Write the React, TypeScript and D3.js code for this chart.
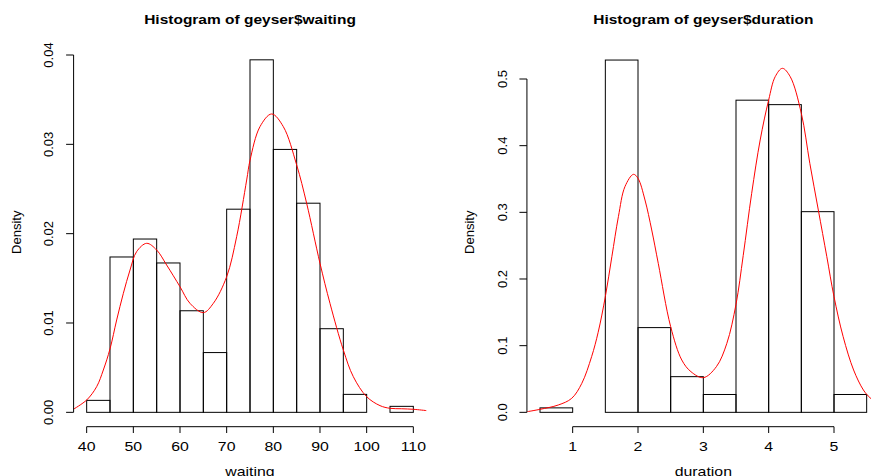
import React from "react";
import * as d3 from "d3";

// ---------- data ----------
const waitingBreaks = [40, 45, 50, 55, 60, 65, 70, 75, 80, 85, 90, 95, 100, 105, 110];
const waitingDensity = [0.00134, 0.01739, 0.0194, 0.01672, 0.01137, 0.00669, 0.02274, 0.03946, 0.02943, 0.02341, 0.00936, 0.00201, 0, 0.00067];
const waitingCurveX = [37.14, 40, 42.14, 43.57, 45, 46.43, 47.86, 49.29, 50.71, 52.86, 55, 57.14, 60, 62.14, 65, 67.14, 70, 72.14, 74.29, 75, 77.14, 79.64, 82.14, 85, 87.14, 90, 92.14, 95, 97.14, 100, 102.86, 105, 107.5, 110, 112.86];
const waitingCurveY = [0.00034, 0.00138, 0.00287, 0.00474, 0.0071, 0.01034, 0.01332, 0.01593, 0.01799, 0.01892, 0.01817, 0.01649, 0.01406, 0.0122, 0.01116, 0.0122, 0.01518, 0.01966, 0.02601, 0.0282, 0.03198, 0.0334, 0.03198, 0.02769, 0.0234, 0.01668, 0.0122, 0.00698, 0.00399, 0.00175, 0.00075, 0.00045, 0.0004, 0.00034, 0.00019];
const waitingXTicks = [40, 50, 60, 70, 80, 90, 100, 110];
const waitingYTicks = ["0.00", "0.01", "0.02", "0.03", "0.04"];

const durationBreaks = [0.5, 1, 1.5, 2, 2.5, 3, 3.5, 4, 4.5, 5, 5.5];
const durationDensity = [0.00669, 0, 0.52843, 0.12709, 0.05351, 0.02676, 0.46823, 0.46154, 0.301, 0.02676];
const durationCurveX = [0.305, 0.5, 0.78, 0.985, 1.14, 1.29, 1.39, 1.5, 1.6, 1.7, 1.8, 1.93, 2.0, 2.107, 2.21, 2.31, 2.5, 2.67, 2.81, 3.0, 3.2, 3.36, 3.5, 3.61, 3.74, 3.87, 4.0, 4.1, 4.21, 4.33, 4.5, 4.63, 4.76, 4.89, 5.0, 5.14, 5.3, 5.45, 5.55, 5.7];
const durationCurveY = [0.001, 0.0045, 0.011, 0.021, 0.0435, 0.0835, 0.12, 0.1735, 0.2335, 0.2935, 0.3385, 0.357, 0.351, 0.3185, 0.2735, 0.2235, 0.1285, 0.0785, 0.061, 0.052, 0.0685, 0.1035, 0.162, 0.235, 0.3285, 0.4085, 0.4685, 0.5035, 0.516, 0.5035, 0.4485, 0.3735, 0.3035, 0.2335, 0.1735, 0.1135, 0.0635, 0.0335, 0.022, 0.011];
const durationXTicks = [1, 2, 3, 4, 5];
const durationYTicks = ["0.0", "0.1", "0.2", "0.3", "0.4", "0.5"];

// ---------- layout ----------
const W = 871;
const H = 476;
const FONT = '"Liberation Sans", Arial, Helvetica, sans-serif';
const SX = 1.22; // horizontal stretch of the reference's text
const AXIS_Y = 426.7;
const ZERO_Y = 412.33;
const PLOT_TOP = 37.9;

type PanelProps = {
  id: string;
  title: string;
  xlabel: string;
  breaks: number[];
  density: number[];
  curveX: number[];
  curveY: number[];
  xTicks: number[];
  yTicks: string[];
  x: d3.ScaleLinear<number, number>;
  y: d3.ScaleLinear<number, number>;
  plotLeft: number;
  plotRight: number;
};

function Panel(p: PanelProps) {
  const { x, y } = p;
  const cx = (p.plotLeft + p.plotRight) / 2;
  const line = d3
    .line<number>()
    .x((_, i) => x(p.curveX[i]))
    .y((d) => y(d))
    .curve(d3.curveCatmullRom.alpha(0.5));
  const yTickVals = p.yTicks.map(Number);
  const xAxisStart = x(p.xTicks[0]);
  const xAxisEnd = x(p.xTicks[p.xTicks.length - 1]);
  const yAxisTop = y(yTickVals[yTickVals.length - 1]);
  const yAxisBot = y(yTickVals[0]);
  const plotCenterY = (PLOT_TOP + AXIS_Y) / 2;
  return (
    <g>
      <defs>
        <clipPath id={p.id}>
          <rect x={p.plotLeft} y={PLOT_TOP} width={p.plotRight - p.plotLeft} height={AXIS_Y - PLOT_TOP} />
        </clipPath>
      </defs>
      {/* bars */}
      {p.density.map((d, i) => (
        <rect
          key={i}
          x={x(p.breaks[i])}
          y={y(d)}
          width={x(p.breaks[i + 1]) - x(p.breaks[i])}
          height={y(0) - y(d)}
          fill="none"
          stroke="#000"
          strokeWidth={1}
        />
      ))}
      {/* density curve */}
      <path d={line(p.curveY) || ""} fill="none" stroke="#ff0000" strokeWidth={1} clipPath={`url(#${p.id})`} />
      {/* x axis */}
      <line x1={xAxisStart} x2={xAxisEnd} y1={AXIS_Y} y2={AXIS_Y} stroke="#000" />
      {p.xTicks.map((t) => (
        <g key={t}>
          <line x1={x(t)} x2={x(t)} y1={AXIS_Y} y2={AXIS_Y + 6.3} stroke="#000" />
          <text
            transform={`translate(${x(t)},451) scale(${SX},1)`}
            textAnchor="middle"
            fontSize={13}
            fontFamily={FONT}
            fill="#000"
          >
            {t}
          </text>
        </g>
      ))}
      {/* y axis */}
      <line x1={p.plotLeft} x2={p.plotLeft} y1={yAxisBot} y2={yAxisTop} stroke="#000" />
      {p.yTicks.map((t) => (
        <g key={t}>
          <line x1={p.plotLeft - 7.5} x2={p.plotLeft} y1={y(+t)} y2={y(+t)} stroke="#000" />
          <text
            transform={`translate(${p.plotLeft - 20.3},${y(+t)}) rotate(-90)`}
            textAnchor="middle"
            fontSize={13}
            fontFamily={FONT}
            fill="#000"
          >
            {t}
          </text>
        </g>
      ))}
      {/* labels */}
      <text
        transform={`translate(${cx},23.5) scale(${SX},1)`}
        textAnchor="middle"
        fontSize={12.7}
        fontWeight="bold"
        fontFamily={FONT}
        fill="#000"
      >
        {p.title}
      </text>
      <text
        transform={`translate(${cx},475.5) scale(${SX},1)`}
        textAnchor="middle"
        fontSize={13}
        fontFamily={FONT}
        fill="#000"
      >
        {p.xlabel}
      </text>
      <text
        transform={`translate(${p.plotLeft - 52.5},${plotCenterY}) rotate(-90)`}
        textAnchor="middle"
        fontSize={13}
        fontFamily={FONT}
        fill="#000"
      >
        Density
      </text>
    </g>
  );
}

export default function App() {
  const xW = d3.scaleLinear().domain([40, 110]).range([86.67, 413.33]);
  const yW = d3.scaleLinear().domain([0, 0.04]).range([ZERO_Y, 55]);
  const xD = d3.scaleLinear().domain([1, 5]).range([572.67, 834]);
  const yD = d3.scaleLinear().domain([0, 0.5]).range([ZERO_Y, 79]);
  return (
    <svg
      width={W}
      height={H}
      viewBox={`0 0 ${W} ${H}`}
      style={{ position: "absolute", left: 0, top: 0, background: "#fff" }}
    >
      <rect x={0} y={0} width={W} height={H} fill="#fff" />
      <Panel
        id="clipW"
        title="Histogram of geyser$waiting"
        xlabel="waiting"
        breaks={waitingBreaks}
        density={waitingDensity}
        curveX={waitingCurveX}
        curveY={waitingCurveY}
        xTicks={waitingXTicks}
        yTicks={waitingYTicks}
        x={xW}
        y={yW}
        plotLeft={xW(37.2)}
        plotRight={xW(112.8)}
      />
      <Panel
        id="clipD"
        title="Histogram of geyser$duration"
        xlabel="duration"
        breaks={durationBreaks}
        density={durationDensity}
        curveX={durationCurveX}
        curveY={durationCurveY}
        xTicks={durationXTicks}
        yTicks={durationYTicks}
        x={xD}
        y={yD}
        plotLeft={xD(0.3)}
        plotRight={xD(5.7)}
      />
    </svg>
  );
}
